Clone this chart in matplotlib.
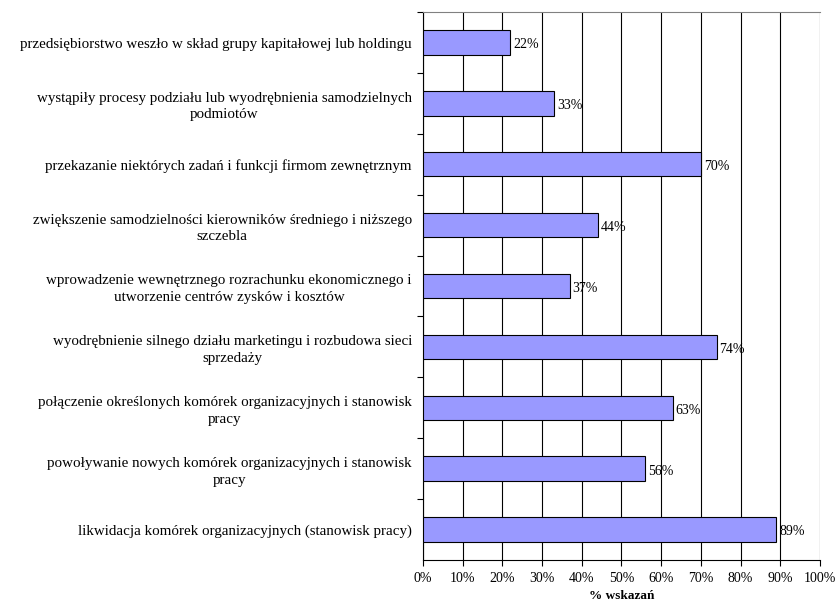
import matplotlib.pyplot as plt
from matplotlib.ticker import MultipleLocator, PercentFormatter

plt.rcParams['font.family'] = ['Liberation Serif', 'DejaVu Serif']

categories = [
    'przedsiębiorstwo weszło w skład grupy kapitałowej lub holdingu',
    'wystąpiły procesy podziału lub wyodrębnienia samodzielnych\npodmiotów',
    'przekazanie niektórych zadań i funkcji firmom zewnętrznym',
    'zwiększenie samodzielności kierowników średniego i niższego\nszczebla',
    'wprowadzenie wewnętrznego rozrachunku ekonomicznego i\nutworzenie centrów zysków i kosztów',
    'wyodrębnienie silnego działu marketingu i rozbudowa sieci\nsprzedaży',
    'połączenie określonych komórek organizacyjnych i stanowisk\npracy',
    'powoływanie nowych komórek organizacyjnych i stanowisk\npracy',
    'likwidacja komórek organizacyjnych (stanowisk pracy)',
]
values = [22, 33, 70, 44, 37, 74, 63, 56, 89]

fig = plt.figure(figsize=(8.35, 6.04), dpi=100)
ax = fig.add_axes([0.5066, 0.073, 0.4754, 0.907])

pos = list(range(len(categories)))[::-1]
ax.barh(pos, values, height=0.4, color='#9999FF', edgecolor='black', linewidth=0.8, zorder=3)
for p, v in zip(pos, values):
    ax.text(v + 0.7, p - 0.04, f'{v}%', va='center', ha='left', fontsize=10)

ax.set_xlim(0, 100)
ax.set_ylim(-0.5, len(categories) - 0.5)
ax.xaxis.set_major_locator(MultipleLocator(10))
ax.xaxis.set_major_formatter(PercentFormatter(decimals=0))
ax.grid(axis='x', color='black', linewidth=0.8, zorder=0)

ax.set_yticks(pos)
ax.set_yticklabels(categories, fontsize=10.8, multialignment='center', linespacing=1.35)
ax.tick_params(axis='y', which='major', length=0, pad=8)
ax.set_yticks([i + 0.5 for i in range(len(categories) - 1)] + [len(categories) - 0.5], minor=True)
ax.tick_params(axis='y', which='minor', length=4, width=0.8)
ax.tick_params(axis='x', labelsize=10, length=4, width=0.8, pad=5)

ax.spines['right'].set_visible(False)
ax.spines['top'].set_color('#808080')
ax.spines['top'].set_linewidth(0.8)
ax.spines['left'].set_linewidth(0.8)
ax.spines['bottom'].set_linewidth(0.8)

ax.set_xlabel('% wskazań', fontsize=9.5, fontweight='bold', va='center')
ax.xaxis.set_label_coords(0.5, -0.066)

fig.savefig('out.png', dpi=100)
